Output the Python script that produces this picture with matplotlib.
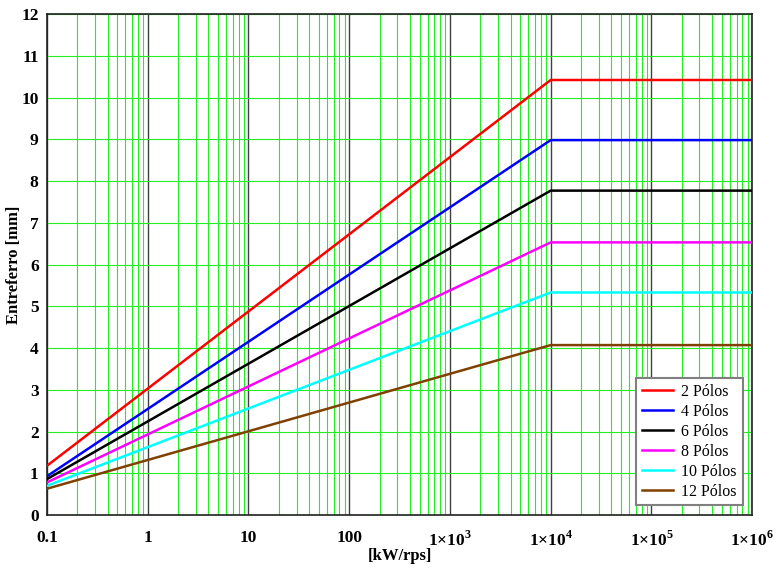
import numpy as np
import matplotlib.pyplot as plt
from matplotlib.ticker import FixedLocator, LogLocator, NullFormatter

plt.rcParams['font.family'] = 'Liberation Serif'
plt.rcParams['mathtext.fontset'] = 'custom'
plt.rcParams['mathtext.rm'] = 'Liberation Serif:bold'
plt.rcParams['mathtext.bf'] = 'Liberation Serif:bold'

# potencia por rotacao [kW/rps]
x = [0.1, 1e4, 1e6]

# entreferro [mm] para cada numero de polos
polos = ['2 Pólos', '4 Pólos', '6 Pólos', '8 Pólos', '10 Pólos', '12 Pólos']
g2 = [1.18, 10.42, 10.42]
g4 = [0.93, 8.98, 8.98]
g6 = [0.86, 7.77, 7.77]
g8 = [0.78, 6.53, 6.53]
g10 = [0.70, 5.33, 5.33]
g12 = [0.63, 4.07, 4.07]
cores = ['#ff0000', '#0000ff', '#000000', '#ff00ff', '#00ffff', '#804000']

xticks = [0.1, 1, 10, 100, 1e3, 1e4, 1e5, 1e6]
xlabels = ['0.1', '1', '10', '100', r'$1{\times}10^3$', r'$1{\times}10^4$',
           r'$1{\times}10^5$', r'$1{\times}10^6$']

fig = plt.figure(figsize=(7.77, 5.68), dpi=100)
ax = fig.add_axes([0.0605, 0.0933, 0.9075, 0.882])

for g, nome, c in zip([g2, g4, g6, g8, g10, g12], polos, cores):
    ax.plot(x, g, color=c, lw=1.8, label=nome, zorder=3)

ax.set_xscale('log')
ax.set_xlim(0.1, 1e6)
ax.set_ylim(0, 12)
ax.xaxis.set_major_locator(FixedLocator(xticks))
ax.set_xticklabels(xlabels)
ax.xaxis.set_minor_locator(LogLocator(base=10, subs=np.arange(2, 10)))
ax.xaxis.set_minor_formatter(NullFormatter())
ax.set_yticks(range(13))

ax.grid(True, which='minor', axis='x', color='#22ee22', lw=0.8)
ax.grid(True, which='major', axis='x', color='#404040', lw=1.0)
ax.grid(True, which='major', axis='y', color='#22ee22', lw=0.8)
ax.set_axisbelow(True)

ax.tick_params(which='both', length=0)
ax.tick_params(axis='x', pad=11, labelsize=12.5)
ax.tick_params(axis='y', pad=6, labelsize=12.5)
for lb in ax.get_xticklabels() + ax.get_yticklabels():
    lb.set_fontweight('bold')
for s in ax.spines.values():
    s.set_color('#202020')
    s.set_linewidth(1.2)

ax.set_xlabel('[kW/rps]', fontsize=12, fontweight='bold')
ax.set_ylabel('Entreferro [mm]', fontsize=12, fontweight='bold')
ax.xaxis.set_label_coords(0.5, -0.066)
ax.yaxis.set_label_coords(-0.036, 0.5)

leg = ax.legend(loc='lower right', fontsize=11.5, fancybox=False, framealpha=1,
                edgecolor='#808080', handlelength=2.0, handletextpad=0.5,
                borderaxespad=0.6, labelspacing=0.25, borderpad=0.35)
leg.get_frame().set_linewidth(1.5)

fig.savefig('out.png', dpi=100)
